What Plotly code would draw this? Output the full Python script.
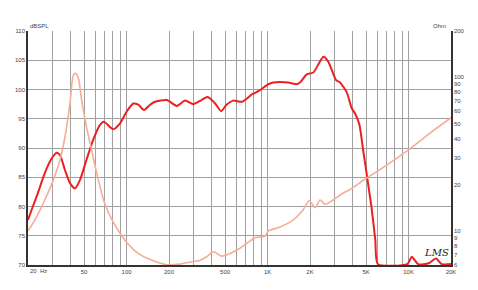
import plotly.graph_objects as go
import math

# ---- data ----
spl_freq = [20, 21.2, 23.5, 26.3, 29.4, 31.9, 33.7, 36.6, 39.7, 43.1, 46.7, 52, 58, 64.6, 69, 80.4,
            89.9, 100, 111.6, 121, 133, 147, 159, 193, 227, 260, 298, 340, 376, 425, 469, 511, 570,
            660, 778, 872, 1012, 1100, 1226, 1404, 1610, 1700, 1897, 2112, 2488, 2698, 3062, 3268,
            3646, 3954, 4174, 4480, 4760, 5100, 5450, 5810, 6060, 9800, 10540, 11690, 13900, 15660,
            17180, 20000]
spl_db = [77.7, 79.4, 82.3, 85.7, 88.2, 89.2, 88.8, 86.2, 84.0, 83.1, 84.5, 88.0, 91.4, 93.9, 94.5,
          93.2, 94.2, 96.2, 97.6, 97.4, 96.5, 97.4, 97.9, 98.2, 97.2, 98.1, 97.5, 98.2, 98.7, 97.6,
          96.3, 97.4, 98.1, 97.9, 99.2, 99.8, 100.9, 101.2, 101.3, 101.2, 100.9, 101.2, 102.6, 102.9,
          105.6, 104.75, 101.6, 101.2, 99.5, 96.8, 95.9, 94.0, 89.7, 84.8, 80.0, 74.3, 70.15, 70.15,
          71.4, 70.15, 70.3, 71.1, 70.15, 70.15]

imp_freq = [20, 22.4, 26.3, 30.2, 33.7, 36.6, 39.7, 42.0, 43.5, 45.5, 48, 52, 56.5, 63.1, 70, 78.9,
            97.5, 121, 150, 193, 238, 289, 333, 370, 413, 471, 542, 621, 713, 816, 961, 1012, 1226,
            1519, 1784, 1977, 2175, 2357, 2560, 2915, 3350, 3848, 4880, 7000, 10330, 14150, 20000]
imp_ohm = [10.0, 11.8, 15.9, 21.4, 28.9, 41.0, 67.7, 103.4, 106, 98.4, 71.1, 47.6, 33.6, 21.4, 15.1,
           11.8, 8.71, 7.14, 6.46, 6.02, 6.08, 6.3, 6.45, 6.79, 7.31, 6.85, 7.14, 7.6, 8.3, 9.02,
           9.26, 9.98, 10.6, 11.8, 13.7, 15.7, 14.2, 15.9, 14.9, 15.9, 17.4, 18.6, 21.6, 26.8, 34.5,
           43.2, 54.5]

x_grid = [20, 30, 40, 50, 60, 70, 80, 90, 100, 200, 300, 400, 500, 600, 700, 800, 900,
          1000, 2000, 3000, 4000, 5000, 6000, 7000, 8000, 9000, 10000, 20000]
x_labels = {50: "50", 100: "100", 200: "200", 500: "500", 1000: "1K", 2000: "2K",
            5000: "5K", 10000: "10K", 20000: "20K"}
y_ticks = [70, 75, 80, 85, 90, 95, 100, 105, 110]
ohm_ticks = [6, 7, 8, 9, 10, 20, 30, 40, 50, 60, 70, 80, 90, 100, 200]

RED = "#ee1f1f"
IMP = "#f6ad96"
GRID = "#a0a0a0"
TXT = "#444444"

fig = go.Figure()
fig.add_trace(go.Scatter(x=imp_freq, y=imp_ohm, yaxis="y2", mode="lines",
                         line=dict(color=IMP, width=1.6, shape="spline", smoothing=0.8),
                         hoverinfo="skip", showlegend=False))
fig.add_trace(go.Scatter(x=spl_freq, y=spl_db, mode="lines",
                         line=dict(color=RED, width=2, shape="spline", smoothing=0.6),
                         hoverinfo="skip", showlegend=False))

font = dict(family="Liberation Sans, Arial", size=6, color=TXT)

fig.update_layout(
    width=478, height=290,
    margin=dict(l=28, r=27, t=31, b=25),
    paper_bgcolor="white", plot_bgcolor="white",
    font=font,
    xaxis=dict(type="log", range=[math.log10(20), math.log10(20000)],
               tickvals=x_grid, ticktext=[x_labels.get(v, "") for v in x_grid],
               showgrid=True, gridcolor=GRID, gridwidth=1,
               showline=True, linecolor="#333333", linewidth=1.5,
               ticks="", tickfont=font, zeroline=False),
    yaxis=dict(range=[70, 110], tickvals=y_ticks, ticktext=[str(v) for v in y_ticks],
               showgrid=True, gridcolor=GRID, gridwidth=1,
               showline=True, linecolor="#333333", linewidth=1.5,
               ticks="", tickfont=font, zeroline=False),
    yaxis2=dict(type="log", range=[math.log10(6), math.log10(200)], overlaying="y", side="right",
                tickvals=ohm_ticks, ticktext=[str(v) for v in ohm_ticks],
                showgrid=False, showline=True, linecolor="#333333", linewidth=1.5,
                ticks="", tickfont=font, zeroline=False),
)

fig.add_annotation(text="20  Hz", xref="paper", yref="paper", x=0, y=0, xanchor="left", yanchor="top",
                   yshift=-1, showarrow=False, font=font)
fig.add_annotation(text="dBSPL", xref="paper", yref="paper", x=0, y=1, xanchor="left", yanchor="bottom",
                   showarrow=False, font=font)
fig.add_annotation(text="Ohm", xref="paper", yref="paper", x=1, y=1, xanchor="right", yanchor="bottom",
                   xshift=-3, showarrow=False, font=font)
fig.add_annotation(text="<i>LMS</i>", xref="paper", yref="paper", x=0.965, y=0.02, xanchor="center",
                   yanchor="bottom", showarrow=False,
                   font=dict(family="DejaVu Serif", size=10, color="#222222"))

fig.write_html("out.html")
